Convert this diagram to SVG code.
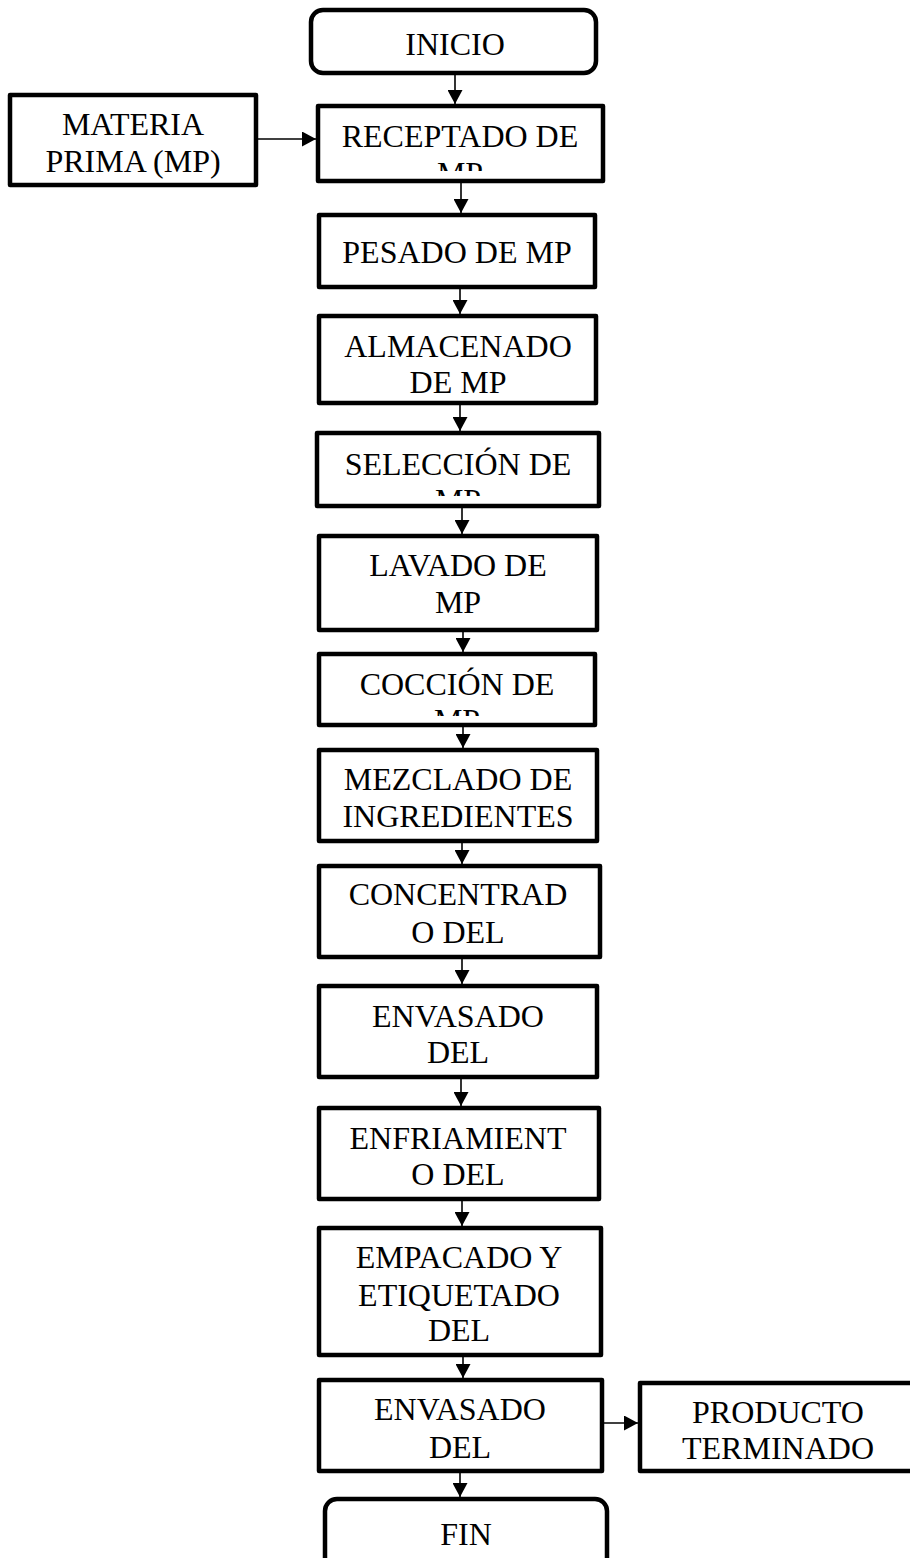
<svg xmlns="http://www.w3.org/2000/svg" width="910" height="1558" viewBox="0 0 910 1558">
<style>
.box{fill:#fff;stroke:#000;stroke-width:4.5;stroke-linejoin:round}
.t{font-family:"Liberation Serif","Times New Roman",serif;font-size:32px;fill:#000;text-anchor:middle}
.c{stroke:#000;stroke-width:1.6;fill:none;marker-end:url(#ah)}
</style>
<defs>
<marker id="ah" markerUnits="userSpaceOnUse" markerWidth="15" markerHeight="15" viewBox="0 0 15 15" refX="14" refY="7.5" orient="auto">
<path d="M0,0 L14,7.5 L0,15 Z" fill="#000"/>
</marker>
<clipPath id="c1"><rect x="316" y="100" width="290" height="71"/></clipPath>
<clipPath id="c2"><rect x="315" y="428" width="290" height="68"/></clipPath>
<clipPath id="c3"><rect x="315" y="648" width="290" height="68"/></clipPath>
</defs>
<rect width="910" height="1558" fill="#fff"/>
<g id="connectors">
<line class="c" x1="455" y1="75" x2="455" y2="104"/>
<line class="c" x1="258" y1="139" x2="316" y2="139"/>
<line class="c" x1="461" y1="183" x2="461" y2="213"/>
<line class="c" x1="460" y1="289" x2="460" y2="314"/>
<line class="c" x1="460" y1="405" x2="460" y2="431"/>
<line class="c" x1="462" y1="508" x2="462" y2="534"/>
<line class="c" x1="463" y1="632" x2="463" y2="652"/>
<line class="c" x1="463" y1="727" x2="463" y2="748"/>
<line class="c" x1="462" y1="843" x2="462" y2="864"/>
<line class="c" x1="462" y1="959" x2="462" y2="984"/>
<line class="c" x1="461" y1="1079" x2="461" y2="1106"/>
<line class="c" x1="462" y1="1201" x2="462" y2="1226"/>
<line class="c" x1="463" y1="1357" x2="463" y2="1378"/>
<line class="c" x1="460" y1="1473" x2="460" y2="1497"/>
<line class="c" x1="604" y1="1423" x2="638" y2="1423"/>
</g>
<g id="inicio"><rect class="box" x="311" y="10" width="285" height="63" rx="12"/><text class="t" x="455" y="55">INICIO</text></g>
<g id="materia"><rect class="box" x="10" y="95" width="246" height="90"/><text class="t" x="133" y="135">MATERIA</text><text class="t" x="133" y="172">PRIMA (MP)</text></g>
<g id="receptado"><rect class="box" x="318" y="106" width="285" height="75"/><g clip-path="url(#c1)"><text class="t" x="460" y="147">RECEPTADO DE</text><text class="t" x="460" y="184">MP</text></g></g>
<g id="pesado"><rect class="box" x="319" y="215" width="276" height="72"/><text class="t" x="457" y="263">PESADO DE MP</text></g>
<g id="almacenado"><rect class="box" x="319" y="316" width="277" height="87"/><text class="t" x="458" y="357">ALMACENADO</text><text class="t" x="458" y="393">DE MP</text></g>
<g id="seleccion"><rect class="box" x="317" y="433" width="282" height="73"/><g clip-path="url(#c2)"><text class="t" x="458" y="475">SELECCIÓN DE</text><text class="t" x="458" y="511">MP</text></g></g>
<g id="lavado"><rect class="box" x="319" y="536" width="278" height="94"/><text class="t" x="458" y="576">LAVADO DE</text><text class="t" x="458" y="613">MP</text></g>
<g id="coccion"><rect class="box" x="319" y="654" width="276" height="71"/><g clip-path="url(#c3)"><text class="t" x="457" y="695">COCCIÓN DE</text><text class="t" x="457" y="731">MP</text></g></g>
<g id="mezclado"><rect class="box" x="319" y="750" width="278" height="91"/><text class="t" x="458" y="790">MEZCLADO DE</text><text class="t" x="458" y="827">INGREDIENTES</text></g>
<g id="concentrado"><rect class="box" x="319" y="866" width="281" height="91"/><text class="t" x="458" y="905">CONCENTRAD</text><text class="t" x="458" y="943">O DEL</text></g>
<g id="envasado1"><rect class="box" x="319" y="986" width="278" height="91"/><text class="t" x="458" y="1027">ENVASADO</text><text class="t" x="458" y="1063">DEL</text></g>
<g id="enfriamiento"><rect class="box" x="319" y="1108" width="280" height="91"/><text class="t" x="458" y="1149">ENFRIAMIENT</text><text class="t" x="458" y="1185">O DEL</text></g>
<g id="empacado"><rect class="box" x="319" y="1228" width="282" height="127"/><text class="t" x="459" y="1268">EMPACADO Y</text><text class="t" x="459" y="1306">ETIQUETADO</text><text class="t" x="459" y="1341">DEL</text></g>
<g id="envasado2"><rect class="box" x="319" y="1380" width="283" height="91"/><text class="t" x="460" y="1420">ENVASADO</text><text class="t" x="460" y="1458">DEL</text></g>
<g id="producto"><rect class="box" x="640" y="1383" width="280" height="88"/><text class="t" x="778" y="1423">PRODUCTO</text><text class="t" x="778" y="1459">TERMINADO</text></g>
<g id="fin"><rect class="box" x="325" y="1499" width="282" height="80" rx="12"/><text class="t" x="466" y="1545">FIN</text></g>
</svg>
